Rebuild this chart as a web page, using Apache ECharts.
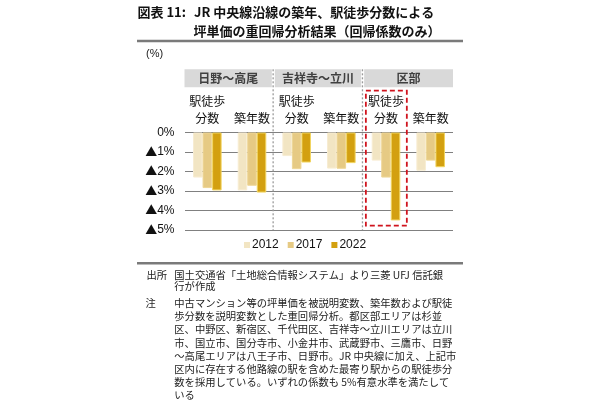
<!DOCTYPE html>
<html>
<head>
<meta charset="utf-8">
<script src="https://cdn.jsdelivr.net/npm/echarts@6/dist/echarts.min.js"></script>
<style>html,body{margin:0;padding:0;background:#fff;}#c{width:600px;height:412px;}</style>
</head>
<body>
<div id="c"></div>
<script>
// ---- data ----
const groups = ['日野～高尾', '吉祥寺～立川', '区部'];
const categories = ['駅徒歩\n分数', '築年数', '駅徒歩\n分数', '築年数', '駅徒歩\n分数', '築年数'];
const years = ['2012', '2017', '2022'];
const values2012 = [-2.31, -2.97, -1.21, -1.85, -1.44, -1.96];
const values2017 = [-2.85, -2.73, -1.88, -1.86, -2.31, -1.44];
const values2022 = [-2.97, -3.08, -1.54, -1.57, -4.51, -1.78];
const titlePrefix = '図表 11:';
const titleLines = ['JR 中央線沿線の築年、駅徒歩分数による', '坪単価の重回帰分析結果（回帰係数のみ）'];
const unitLabel = '(%)';
const sourceLabel = '出所';
const sourceLines = ['国土交通省「土地総合情報システム」より三菱 UFJ 信託銀', '行が作成'];
const noteLabel = '注';
const noteLines = [
  '中古マンション等の坪単価を被説明変数、築年数および駅徒',
  '歩分数を説明変数とした重回帰分析。都区部エリアは杉並',
  '区、中野区、新宿区、千代田区、吉祥寺～立川エリアは立川',
  '市、国立市、国分寺市、小金井市、武蔵野市、三鷹市、日野',
  '～高尾エリアは八王子市、日野市。JR 中央線に加え、上記市',
  '区内に存在する他路線の駅を含めた最寄り駅からの駅徒歩分',
  '数を採用している。いずれの係数も 5%有意水準を満たして',
  'いる'
];
const highlightIndex = 4;      // 区部・駅徒歩分数
const highlightBottom = -4.78; // bottom of dashed frame (axis value)

const FONT = "'Liberation Sans','Noto Sans CJK JP',sans-serif";
const JFONT = "'Noto Sans CJK JP','Liberation Sans',sans-serif";
const colors = ['#F2E5C3', '#E6CA84', '#D3A010'];
const borders = ['#F8EDD2', '#EED696', '#F2D560'];
const seriesValues = [values2012, values2017, values2022];

const chart = echarts.init(document.getElementById('c'), null, {renderer: 'canvas'});
chart.setOption({
  animation: false,
  textStyle: {fontFamily: FONT},
  grid: {left: 185, right: 147, top: 132.5, bottom: 182, containLabel: false},
  legend: {
    data: years, left: 244, top: 239, padding: 0, icon: 'rect', itemWidth: 6, itemHeight: 6, itemGap: 9,
    itemStyle: {borderWidth: 0},
    textStyle: {fontSize: 12, color: '#111', fontFamily: FONT, padding: [0, 0, 0, -3]}
  },
  xAxis: {
    type: 'category', data: categories, position: 'top',
    axisLine: {show: false}, axisTick: {show: false},
    axisLabel: {interval: 0, margin: 6, fontSize: 12, lineHeight: 16.7, color: '#111', fontFamily: JFONT}
  },
  yAxis: {
    type: 'value', min: -5, max: 0, interval: 1,
    axisLine: {show: false}, axisTick: {show: false},
    splitLine: {lineStyle: {color: '#808080', width: 1.2}},
    axisLabel: {
      margin: 10.5, fontSize: 12, color: '#111', fontFamily: FONT,
      formatter: v => v === 0 ? '0%' : '{t|▲}' + Math.abs(v) + '%',
      rich: {t: {fontFamily: JFONT, fontSize: 12, color: '#111'}}
    }
  },
  series: years.map((y, i) => ({
    name: y, type: 'bar', data: seriesValues[i],
    barGap: '0%', barCategoryGap: '36%',
    itemStyle: {color: colors[i], borderColor: borders[i], borderWidth: 1}
  }))
});

// ---- annotations derived from the axes ----
const cx = i => chart.convertToPixel({xAxisIndex: 0}, i);
const py = v => chart.convertToPixel({yAxisIndex: 0}, v);
const cw = cx(1) - cx(0);
const bound = i => cx(0) - cw / 2 + i * cw;   // boundary before category i
const yBot = py(-5);
const headerTop = 69.3, headerH = 18;

const g = [];
// title
g.push({type: 'line', shape: {x1: 137, y1: 41, x2: 463, y2: 41}, style: {stroke: '#7a7a7a', lineWidth: 2.5}});
g.push({type: 'text', x: 137.5, y: 12.5, style: {text: titlePrefix, font: 'bold 13px ' + JFONT, fill: '#111', verticalAlign: 'middle'}});
g.push({type: 'text', x: 194, y: 12.5, style: {text: titleLines[0], font: 'bold 13px ' + JFONT, fill: '#111', verticalAlign: 'middle'}});
g.push({type: 'text', x: 193.5, y: 31.3, style: {text: titleLines[1], font: 'bold 13px ' + JFONT, fill: '#111', verticalAlign: 'middle'}});
g.push({type: 'text', x: 146, y: 54, style: {text: unitLabel, font: '11px ' + FONT, fill: '#222', verticalAlign: 'middle'}});

// group headers
groups.forEach((name, k) => {
  const l = bound(2 * k) + (k > 0 ? 0.5 : -0.5);
  const r = bound(2 * k + 2) - (k < 2 ? 2.5 : 0);
  g.push({type: 'rect', shape: {x: l, y: headerTop, width: r - l, height: headerH}, style: {fill: '#D9D9D9'}});
  g.push({type: 'text', x: (l + r) / 2, y: headerTop + headerH / 2, style: {text: name, font: 'bold 12px ' + JFONT, fill: '#404040', align: 'center', verticalAlign: 'middle'}});
});
// dotted separators
[2, 4].forEach(i => {
  const x = bound(i) - 1.2;
  g.push({type: 'line', shape: {x1: x, y1: headerTop, x2: x, y2: yBot}, style: {stroke: '#9a9a9a', lineWidth: 1.3, lineDash: [2, 2]}});
});
// red dashed frame
{
  const l = bound(highlightIndex) + 2.2, r = bound(highlightIndex + 1) - 1.5;
  const b = py(highlightBottom);
  g.push({type: 'rect', shape: {x: l, y: 90.7, width: r - l, height: b - 90.7}, style: {fill: 'none', stroke: '#D0141E', lineWidth: 1.8, lineDash: [5, 3]}});
}
// footer
const NF = '10.3px ' + JFONT;
g.push({type: 'line', shape: {x1: 137, y1: 263.3, x2: 463, y2: 263.3}, style: {stroke: '#7a7a7a', lineWidth: 2.5}});
g.push({type: 'text', x: 146.5, y: 275, style: {text: sourceLabel, font: NF, fill: '#222', verticalAlign: 'middle'}});
sourceLines.forEach((t, i) => g.push({type: 'text', x: 174.3, y: 275 + i * 11.5, style: {text: t, font: NF, fill: '#222', verticalAlign: 'middle'}}));
g.push({type: 'text', x: 145.5, y: 303.3, style: {text: noteLabel, font: NF, fill: '#222', verticalAlign: 'middle'}});
noteLines.forEach((t, i) => g.push({type: 'text', x: 174.3, y: 303.3 + i * 13.1, style: {text: t, font: NF, fill: '#222', verticalAlign: 'middle'}}));

chart.setOption({graphic: {elements: g}});
</script>
</body>
</html>
